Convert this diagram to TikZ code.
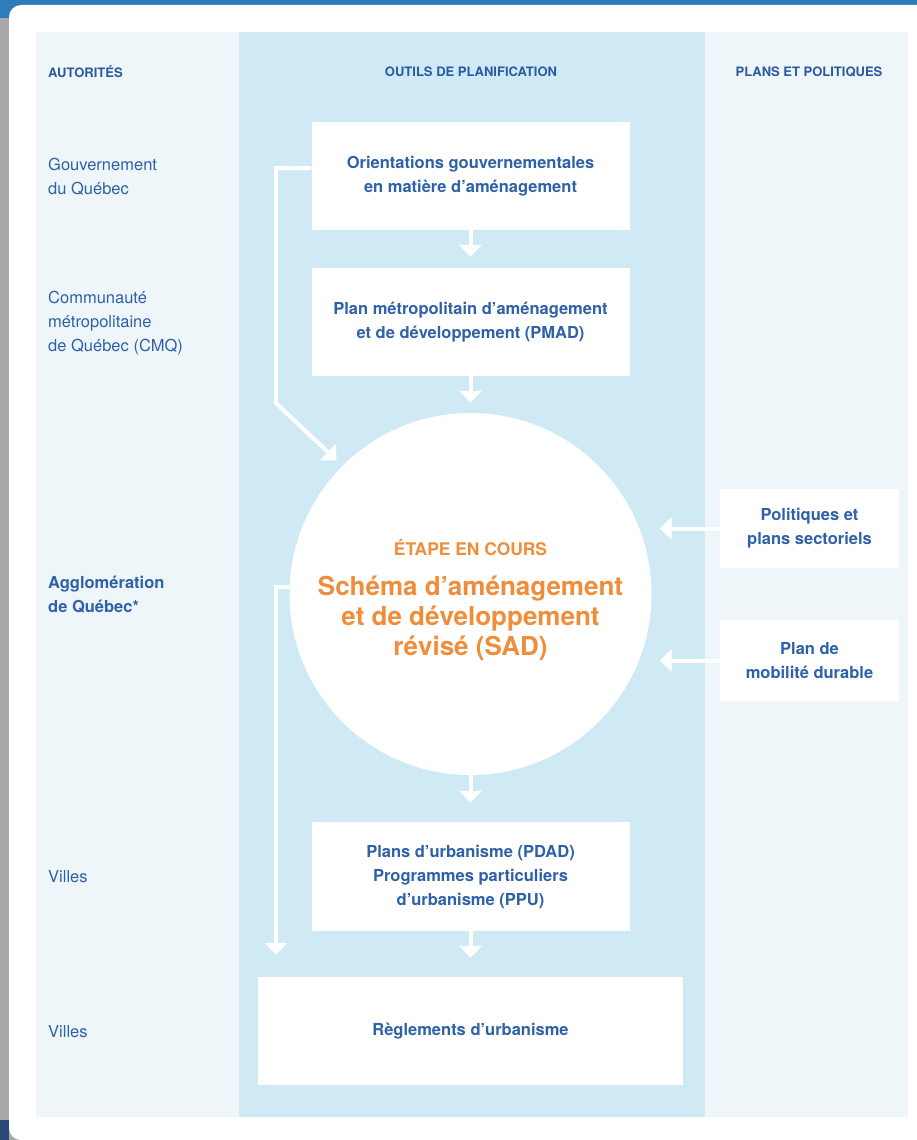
\documentclass[tikz,border=0pt]{standalone}
\usepackage{fontspec}
\setmainfont{TeX Gyre Heros}
\usepackage{xcolor}
\usepackage{tikz}
\usetikzlibrary{arrows.meta}
\definecolor{textblue}{HTML}{2E61A8}
\definecolor{headblue}{HTML}{2A5A9F}
\definecolor{stageorange}{HTML}{EF8D3A}
\definecolor{paleblue}{HTML}{EFF6FA}
\definecolor{midblue}{HTML}{D0EAF5}
\definecolor{topblue}{HTML}{2F7DB8}
\definecolor{edgegrey}{HTML}{A9A8AB}
\definecolor{navy}{HTML}{2C4877}
\tikzstyle{plan box}=[fill=white, draw=none, shape=rectangle, inner sep=0pt, align=center, text=textblue, font=\fontsize{16.5}{24}\selectfont\bfseries]
\tikzstyle{stage}=[fill=white, draw=none, shape=circle, inner sep=0pt, minimum size=362pt]
\tikzstyle{stage label}=[inner sep=0pt, text=stageorange, font=\fontsize{17.4}{20}\selectfont\bfseries]
\tikzstyle{stage title}=[inner sep=0pt, align=center, text=stageorange, font=\fontsize{26}{30}\selectfont\bfseries]
\tikzstyle{authority}=[anchor=west, inner sep=0pt, align=left, text=textblue, font=\fontsize{16.5}{24}\selectfont]
\tikzstyle{heading}=[inner sep=0pt, text=headblue, font=\fontsize{13}{16}\selectfont\bfseries]
\tikzstyle{white arrow}=[-{Triangle[width=22pt, length=12pt]}, draw=white, line width=4pt]
\pgfdeclarelayer{nodelayer}
\pgfdeclarelayer{edgelayer}
\pgfsetlayers{main,nodelayer,edgelayer}

\begin{document}
\begin{tikzpicture}[x=1pt, y=-1pt]
	\useasboundingbox (0,0) rectangle (917,1140);
	\clip (0,0) rectangle (917,1140);
	% frame and card
	\fill [edgegrey] (0,0) rectangle (917,1140);
	\fill [topblue] (0,0) rectangle (917,18);
	\fill [navy] (0,1120) rectangle (9,1140);
	\fill [white, rounded corners=12pt] (9,5) rectangle (960,1140);
	% three columns
	\fill [paleblue] (36,32) rectangle (908,1117);
	\fill [midblue] (239,32) rectangle (705,1117);
	\begin{pgfonlayer}{nodelayer}
		\node [style=plan box, minimum width=318pt, minimum height=108pt] (0) at (470.5,176) {Orientations gouvernementales\\en matière d’aménagement};
		\node [style=plan box, minimum width=318pt, minimum height=108pt] (1) at (470.5,322) {Plan métropolitain d’aménagement\\et de développement (PMAD)};
		\node [style=stage] (2) at (470.5,594) {};
		\node [style=plan box, minimum width=318pt, minimum height=109pt] (3) at (470.5,876.5) {Plans d’urbanisme (PDAD)\\Programmes particuliers\\d’urbanisme (PPU)};
		\node [style=plan box, minimum width=425pt, minimum height=108pt] (4) at (470.5,1031) {Règlements d’urbanisme};
		\node [style=plan box, minimum width=179pt, minimum height=79pt] (5) at (809.5,528.5) {Politiques et\\plans sectoriels};
		\node [style=plan box, minimum width=179pt, minimum height=81pt] (6) at (809.5,660.5) {Plan de\\mobilité durable};
		\node [style=stage label] (7) at (470.5,548) {ÉTAPE EN COURS};
		\node [style=stage title] (8) at (470.5,618) {Schéma d’aménagement\\et de développement\\révisé (SAD)};
		\node [style=authority] (9) at (48,177) {Gouvernement\\du Québec};
		\node [style=authority] (10) at (48,323) {Communauté\\métropolitaine\\de Québec (CMQ)};
		\node [style=authority, font=\fontsize{16.5}{24}\selectfont\bfseries] (11) at (48,595) {Agglomération\\de Québec*};
		\node [style=authority] (12) at (48,877) {Villes};
		\node [style=authority] (13) at (48,1032) {Villes};
		\node [style=heading, anchor=west] (14) at (48,72) {AUTORITÉS};
		\node [style=heading] (15) at (471,72) {OUTILS DE PLANIFICATION};
		\node [style=heading] (16) at (809,72) {PLANS ET POLITIQUES};
		\coordinate (17) at (276,403);
	\end{pgfonlayer}
	\begin{pgfonlayer}{edgelayer}
		\draw [style=white arrow, shorten >=11pt] (0) to (1);
		\draw [style=white arrow, shorten >=10pt] (1) to (2);
		\draw [style=white arrow, shorten >=19pt] (2) to (3);
		\draw [style=white arrow, shorten >=19pt] (3) to (4);
		\draw [style=white arrow, shorten >=8pt] (5) to (5 -| 2.east);
		\draw [style=white arrow, shorten >=8pt] (6) to (6 -| 2.east);
		\draw [style=white arrow, shorten >=8pt] ([yshift=8pt]0.west) -| (17) to (2.135);
		\draw [style=white arrow, shorten >=22pt] ([yshift=7pt]2.west) -| (17 |- 4.north);
	\end{pgfonlayer}
\end{tikzpicture}
\end{document}
